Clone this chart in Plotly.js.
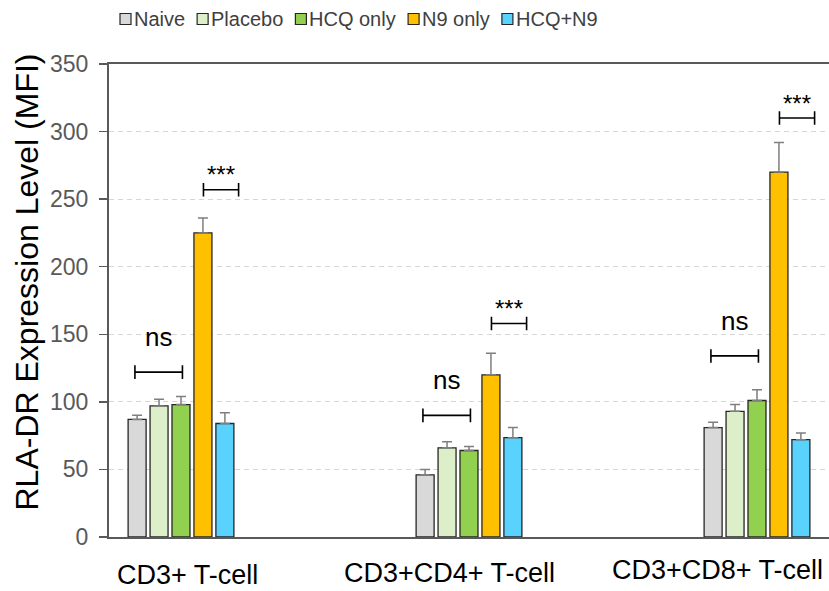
<!DOCTYPE html>
<html><head><meta charset="utf-8">
<script src="https://cdn.plot.ly/plotly-3.0.1.min.js"></script>
<style>html,body{margin:0;padding:0;background:#fff;} #chart{width:829px;height:591px;}</style>
</head><body><div id="chart"></div>
<script>
// ---- data ----
const categories = ['CD3+ T-cell', 'CD3+CD4+ T-cell', 'CD3+CD8+ T-cell'];
const seriesNames = ['Naive', 'Placebo', 'HCQ only', 'N9 only', 'HCQ+N9'];
const naive   = [87, 46, 81];
const placebo = [97, 66, 93];
const hcqOnly = [98, 64, 101];
const n9Only  = [225, 120, 270];
const hcqN9   = [84, 73.5, 72];
const naiveErr   = [3, 4, 4];
const placeboErr = [5, 4.5, 5];
const hcqOnlyErr = [6, 3, 8];
const n9OnlyErr  = [11, 16, 22];
const hcqN9Err   = [8, 7.5, 5];
const nsLabels = ['ns', 'ns', 'ns'];
const nsBracketY = [122, 90, 134];
const sigLabels = ['***', '***', '***'];
const sigBracketY = [257, 158, 310];
const yTicks = [0, 50, 100, 150, 200, 250, 300, 350];

// ---- style ----
const colors = ['#d9d9d9', '#dcefc8', '#92d050', '#ffc000', '#59d2fe'];
const values = [naive, placebo, hcqOnly, n9Only, hcqN9];
const errs = [naiveErr, placeboErr, hcqOnlyErr, n9OnlyErr, hcqN9Err];
const baseFont = '"Liberation Sans", Arial, sans-serif';

const traces = seriesNames.map((name, i) => ({
  type: 'bar', name: name, x: categories, y: values[i],
  marker: {color: colors[i], line: {color: '#262626', width: 1.3}},
  error_y: {type: 'data', symmetric: false, array: errs[i], arrayminus: errs[i].map(() => 0),
            color: '#7f7f7f', thickness: 1.5, width: 5},
  hoverinfo: 'x+y+name'
}));

const shapes = [];
const annotations = [];

// significance brackets
const nsSpan = [-0.16, 0.005];
const sigSpan = [0.078, 0.2];
const cap = 5;
function bracket(cx, span, y) {
  const x0 = cx + span[0], x1 = cx + span[1];
  shapes.push({type: 'path', xref: 'x', yref: 'y',
    path: `M${x0},${y - cap} L${x0},${y + cap} M${x0},${y} L${x1},${y} M${x1},${y - cap} L${x1},${y + cap}`,
    line: {color: '#000', width: 1.6}});
}
categories.forEach((c, i) => {
  bracket(i, nsSpan, nsBracketY[i]);
  bracket(i, sigSpan, sigBracketY[i]);
  annotations.push({xref: 'x', yref: 'y', x: i + (nsSpan[0] + nsSpan[1]) / 2, y: nsBracketY[i],
    yshift: 35, yanchor: 'middle', xanchor: 'center', text: nsLabels[i], showarrow: false,
    font: {family: baseFont, size: 26, color: '#000'}});
  annotations.push({xref: 'x', yref: 'y', x: i + (sigSpan[0] + sigSpan[1]) / 2, y: sigBracketY[i],
    yshift: 15, yanchor: 'middle', xanchor: 'center', text: sigLabels[i], showarrow: false,
    font: {family: baseFont, size: 24, color: '#000'}});
});

// category labels (offset like the original)
const labelXShift = [6.5, -19.5, -40];
const labelYShift = [-38, -36, -33];
categories.forEach((c, i) => {
  annotations.push({xref: 'x', yref: 'paper', x: i, y: 0, xshift: labelXShift[i], yshift: labelYShift[i],
    yanchor: 'middle', xanchor: 'center', text: c, showarrow: false,
    font: {family: baseFont, size: 27, color: '#000'}});
});

// y title
annotations.push({xref: 'paper', yref: 'paper', x: 0, y: 0.5, xshift: -83, yshift: 18,
  xanchor: 'center', yanchor: 'middle',
  textangle: -90, text: 'RLA-DR Expression Level (MFI)', showarrow: false,
  font: {family: baseFont, size: 32, color: '#000'}});

// manual legend
const legendSize = 20;
const ctx = document.createElement('canvas').getContext('2d');
ctx.font = legendSize + 'px ' + baseFont;
let cursor = 120 - 109;
const legendY = 45;
seriesNames.forEach((name, i) => {
  shapes.push({type: 'rect', xref: 'paper', yref: 'paper', xsizemode: 'pixel', ysizemode: 'pixel',
    xanchor: 0, yanchor: 1, x0: cursor, x1: cursor + 11, y0: legendY - 5.5, y1: legendY + 5.5,
    fillcolor: colors[i], line: {color: '#262626', width: 1.2}});
  annotations.push({xref: 'paper', yref: 'paper', x: 0, y: 1, xshift: cursor + 12, yshift: legendY,
    xanchor: 'left', yanchor: 'middle', text: name, showarrow: false,
    font: {family: baseFont, size: legendSize, color: '#404040'}});
  cursor += 11 + 4 + ctx.measureText(name).width + 11;
});

const layout = {
  width: 829, height: 591,
  margin: {l: 109, r: 0, t: 64, b: 54},
  paper_bgcolor: '#fff', plot_bgcolor: '#fff',
  showlegend: false,
  barmode: 'group', bargap: 0.619, bargroupgap: 0.18,
  xaxis: {type: 'category', range: [-0.25, 2.25], showticklabels: false, ticks: '',
    showline: true, linecolor: '#595959', linewidth: 2, mirror: true,
    showgrid: false, zeroline: false, fixedrange: true},
  yaxis: {range: [0, 350], tickvals: yTicks, ticks: 'outside', ticklen: 8, tickwidth: 1.5,
    tickcolor: '#595959', showline: true, linecolor: '#595959', linewidth: 2,
    showgrid: true, gridcolor: '#d6d6d6', gridwidth: 1, griddash: '5px,4px', zeroline: false,
    ticklabelstandoff: 6,
    tickfont: {family: baseFont, size: 23, color: '#595959'}, fixedrange: true},
  shapes: shapes,
  annotations: annotations
};

Plotly.newPlot('chart', traces, layout, {displayModeBar: false, staticPlot: true});
</script>
</body></html>
